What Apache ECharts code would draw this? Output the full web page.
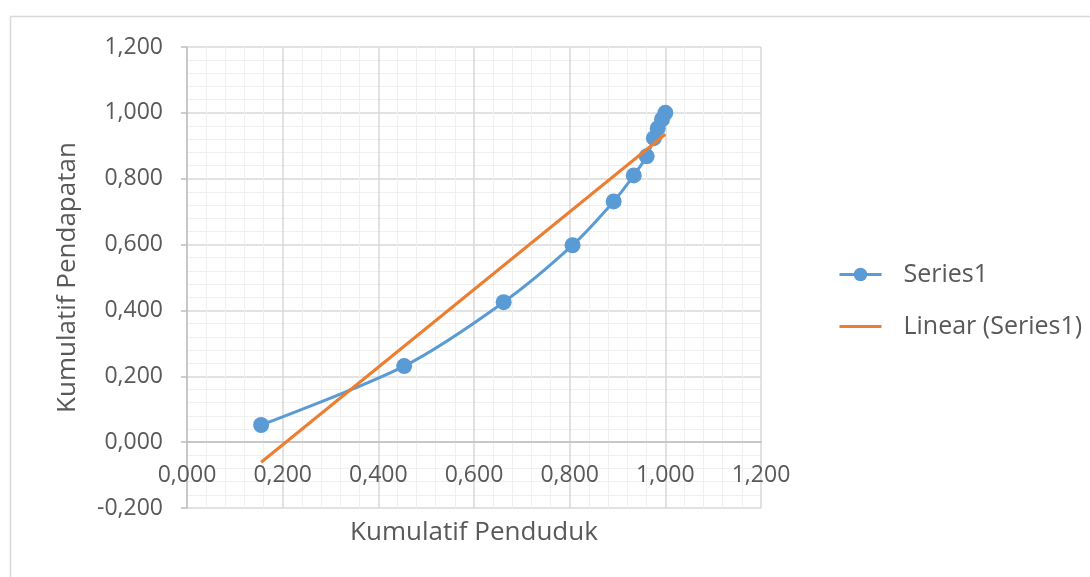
<!DOCTYPE html>
<html>
<head>
<meta charset="utf-8">
<script src="https://cdn.jsdelivr.net/npm/echarts@6/dist/echarts.min.js"></script>
<style>
html,body{margin:0;padding:0;background:#fff;}
#c{width:1090px;height:577px;}
</style>
</head>
<body>
<div id="c"></div>
<script>
// Data
var popCum = [0.155, 0.454, 0.662, 0.806, 0.892, 0.934, 0.961, 0.976, 0.984, 0.993, 1.000];
var incCum = [0.052, 0.231, 0.425, 0.598, 0.731, 0.810, 0.868, 0.923, 0.953, 0.980, 1.000];
var trendX = [0.155, 1.000];
var trendY = [-0.061, 0.935];
var seriesName = 'Series1';
var trendName = 'Linear (Series1)';
var xTitle = 'Kumulatif Penduduk';
var yTitle = 'Kumulatif Pendapatan';

function fmt(v){ return v.toFixed(3).replace('.', ','); }

var mainData = popCum.map(function(x,i){ return [x, incCum[i]]; });
var trendData = trendX.map(function(x,i){ return [x, trendY[i]]; });

var FONT = '"Open Sans", sans-serif';
var TXT = '#595959';

var chart = echarts.init(document.getElementById('c'), null, {renderer:'canvas'});
chart.setOption({
  animation:false,
  backgroundColor:'#ffffff',
  textStyle:{fontFamily:FONT},
  graphic:[{
    type:'rect', left:8, top:14, silent:true,
    shape:{width:1100, height:600},
    style:{fill:'none', stroke:'#d9d9d9', lineWidth:1.5}
  }],
  grid:{left:187, top:47, right:329, bottom:69, containLabel:false, outerBoundsMode:'none'},
  legend:{
    orient:'vertical', left:838, top:262, itemGap:27, padding:0,
    itemWidth:42, itemHeight:17,
    textStyle:{color:TXT, fontSize:25, fontFamily:FONT, padding:[0,0,0,17]},
    data:[
      {name:seriesName, lineStyle:{width:3}},
      {name:trendName, itemStyle:{opacity:0}, lineStyle:{width:3}}
    ]
  },
  xAxis:{
    type:'value', min:0, max:1.2, interval:0.2,
    name:xTitle, nameLocation:'middle', nameGap:12,
    nameTextStyle:{color:TXT, fontSize:26, fontFamily:FONT, verticalAlign:'top'},
    axisLine:{show:true, onZero:true, lineStyle:{color:'#bfbfbf', width:1.5}},
    axisTick:{show:false},
    axisLabel:{color:TXT, fontSize:23, inside:true, margin:21, formatter:fmt, fontFamily:FONT},
    splitLine:{show:true, lineStyle:{color:'#d9d9d9', width:1.5}},
    minorTick:{show:false, splitNumber:5},
    minorSplitLine:{show:true, lineStyle:{color:'#f0f0f0', width:1}}
  },
  yAxis:{
    type:'value', min:-0.2, max:1.2, interval:0.2,
    name:yTitle, nameLocation:'middle', nameGap:106, nameRotate:90,
    nameTextStyle:{color:TXT, fontSize:26, fontFamily:FONT},
    axisLine:{show:true, onZero:false, lineStyle:{color:'#bfbfbf', width:1.5}},
    axisTick:{show:true, inside:false, length:6, lineStyle:{color:'#bfbfbf', width:1.5}},
    axisLabel:{color:TXT, fontSize:23, margin:24, formatter:fmt, fontFamily:FONT},
    splitLine:{show:true, lineStyle:{color:'#d9d9d9', width:1.5}},
    minorTick:{show:false, splitNumber:5},
    minorSplitLine:{show:true, lineStyle:{color:'#f0f0f0', width:1}}
  },
  series:[{
    name:seriesName, type:'line', data:mainData, smooth:0.3,
    symbol:'circle', symbolSize:16,
    itemStyle:{color:'#5B9BD5'},
    lineStyle:{color:'#5B9BD5', width:3},
    z:2
  },{
    name:trendName, type:'line', data:trendData,
    symbol:'none',
    itemStyle:{color:'#ED7D31'},
    lineStyle:{color:'#ED7D31', width:3},
    z:3
  }]
});
</script>
</body>
</html>
